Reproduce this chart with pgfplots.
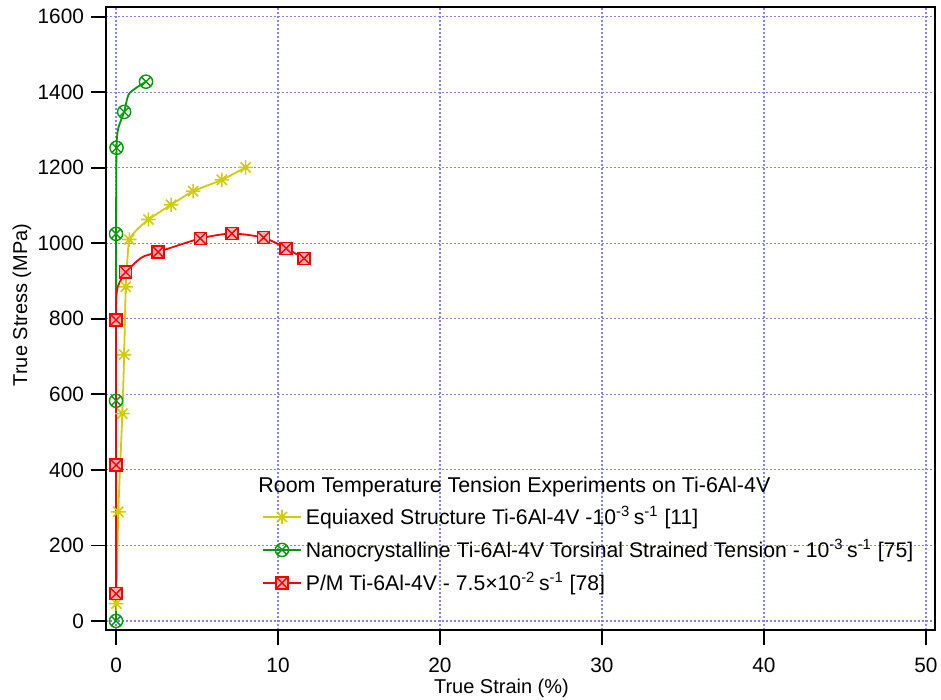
\documentclass[border=0pt]{standalone}
\usepackage{fontspec}
\setmainfont{Liberation Sans}
\usepackage{pgfplots}
\pgfplotsset{compat=1.18}

\definecolor{ycol}{RGB}{208,204,10}
\definecolor{gcol}{RGB}{0,155,0}
\definecolor{rcol}{RGB}{255,0,0}
\definecolor{rfill}{RGB}{255,175,175}
\definecolor{gridcol}{RGB}{130,130,255}

% eight-arm asterisk
\pgfdeclareplotmark{ast8}{%
  \pgfpathmoveto{\pgfqpoint{-\pgfplotmarksize}{0pt}}%
  \pgfpathlineto{\pgfqpoint{\pgfplotmarksize}{0pt}}%
  \pgfpathmoveto{\pgfqpoint{0pt}{-\pgfplotmarksize}}%
  \pgfpathlineto{\pgfqpoint{0pt}{\pgfplotmarksize}}%
  \pgfpathmoveto{\pgfqpoint{-0.707\pgfplotmarksize}{-0.707\pgfplotmarksize}}%
  \pgfpathlineto{\pgfqpoint{0.707\pgfplotmarksize}{0.707\pgfplotmarksize}}%
  \pgfpathmoveto{\pgfqpoint{-0.707\pgfplotmarksize}{0.707\pgfplotmarksize}}%
  \pgfpathlineto{\pgfqpoint{0.707\pgfplotmarksize}{-0.707\pgfplotmarksize}}%
  \pgfusepathqstroke}
% square with a cross
\pgfdeclareplotmark{boxx}{%
  \pgfpathrectangle{\pgfqpoint{-\pgfplotmarksize}{-\pgfplotmarksize}}{\pgfqpoint{2\pgfplotmarksize}{2\pgfplotmarksize}}%
  \pgfusepathqfillstroke
  \pgfpathmoveto{\pgfqpoint{-\pgfplotmarksize}{-\pgfplotmarksize}}%
  \pgfpathlineto{\pgfqpoint{\pgfplotmarksize}{\pgfplotmarksize}}%
  \pgfpathmoveto{\pgfqpoint{-\pgfplotmarksize}{\pgfplotmarksize}}%
  \pgfpathlineto{\pgfqpoint{\pgfplotmarksize}{-\pgfplotmarksize}}%
  \pgfusepathqstroke}

\begin{document}
\begin{tikzpicture}
\begin{axis}[
    name=ax,
    scale only axis,
    width=414.5pt, height=311.35pt,
    xmin=-0.62, xmax=50.56,
    ymin=-24, ymax=1625,
    xtick={0,10,...,50},
    ytick={0,200,...,1600},
    tick align=outside,
    xtick pos=bottom, ytick pos=left,
    major tick length=7.5pt,
    every tick/.style={black, line width=0.9pt},
    axis line style={line width=0.9pt},
    grid=major,
    grid style={gridcol, line width=0.6pt, dash pattern=on 1pt off 1pt},
    tick label style={font=\fontsize{10.4}{12}\selectfont},
    /pgf/number format/assume math mode=true,
    /pgf/number format/set thousands separator={},
    xticklabel style={yshift=-3pt},
    label style={font=\fontsize{10.7}{12}\selectfont},
    xlabel={True Strain (\%)},
    ylabel={True Stress (MPa)},
    every axis x label/.style={at={(axis description cs:0.477,0)}, anchor=center, yshift=-29pt},
    every axis y label/.style={at={(axis description cs:0,0.522)}, anchor=center, rotate=90, yshift=42pt},
    legend style={draw=none, fill=none, at={(axis cs:8.99,188)}, anchor=west,
        inner sep=0pt, row sep=1.8pt, font=\fontsize{10.6}{12}\selectfont},
    legend cell align=left,
    legend image code/.code={%
        \draw[mark repeat=2, mark phase=2, #1] plot coordinates {(0pt,0pt) (9.5pt,0pt) (19pt,0pt)};},
]
% Equiaxed structure
\addplot[ycol, line width=0.9pt, smooth, tension=0.4, forget plot] coordinates {
    (0.02,46) (0.14,289) (0.39,549) (0.5,705) (0.6,885) (0.7,956) (0.82,1010)
    (1.27,1035) (2.0,1063) (3.4,1102) (4.76,1138) (6.53,1168) (8.0,1201)
};
\addplot[ycol, only marks, mark=ast8, mark size=3.6pt, line width=0.8pt, forget plot] coordinates {
    (0.02,46) (0.14,289) (0.39,549) (0.5,705) (0.6,885) (0.82,1010)
    (2.0,1063) (3.4,1102) (4.76,1138) (6.53,1168) (8.0,1201)
};
% Nanocrystalline
\addplot[gcol, line width=0.9pt, smooth, tension=0.4, forget plot] coordinates {
    (0,0) (0,583) (0,1025) (0.03,1253) (0.14,1305) (0.5,1348) (0.82,1397) (1.85,1428)
};
\addplot[gcol, only marks, mark=otimes, mark size=3.3pt, line width=0.7pt, forget plot] coordinates {
    (0,0) (0,583) (0,1025) (0.03,1253) (0.5,1348) (1.85,1428)
};
% P/M
\addplot[rcol, line width=0.9pt, smooth, tension=0.4, forget plot] coordinates {
    (0,72) (0,413) (0,797) (0.02,860) (0.15,890) (0.6,924) (1.6,963) (2.6,977)
    (5.2,1013) (7.15,1026) (9.1,1015) (10.5,987) (11.6,960)
};
\addplot[rcol, only marks, mark=boxx, mark size=3pt, line width=0.7pt,
    mark options={fill=rfill}, forget plot] coordinates {
    (0,72) (0,413) (0,797) (0.6,924) (2.6,977) (5.2,1013) (7.15,1026) (9.1,1015) (10.5,987) (11.6,960)
};
\addlegendimage{ycol, line width=0.9pt, mark=ast8, mark size=3.6pt, mark options={line width=0.8pt}}
\addlegendentry{Equiaxed Structure Ti-6Al-4V -10\textsuperscript{-3}\,s\textsuperscript{-1} [11]}
\addlegendimage{gcol, line width=0.9pt, mark=otimes, mark size=3.3pt, mark options={line width=0.7pt}}
\addlegendentry{Nanocrystalline Ti-6Al-4V Torsinal Strained Tension - 10\textsuperscript{-3}\,s\textsuperscript{-1} [75]}
\addlegendimage{rcol, line width=0.9pt, mark=boxx, mark size=3pt, mark options={line width=0.7pt, fill=rfill}}
\addlegendentry{P/M Ti-6Al-4V - 7.5×10\textsuperscript{-2}\,s\textsuperscript{-1} [78]}
\node[anchor=west, inner sep=0pt, font=\fontsize{10.7}{12}\selectfont] at (axis cs:8.77,355)
    {Room Temperature Tension Experiments on Ti-6Al-4V};
\end{axis}
\pgfresetboundingbox
\path[use as bounding box] ([xshift=-53pt,yshift=-35pt]ax.south west) rectangle ([xshift=3pt,yshift=3.65pt]ax.north east);
\end{tikzpicture}
\end{document}
